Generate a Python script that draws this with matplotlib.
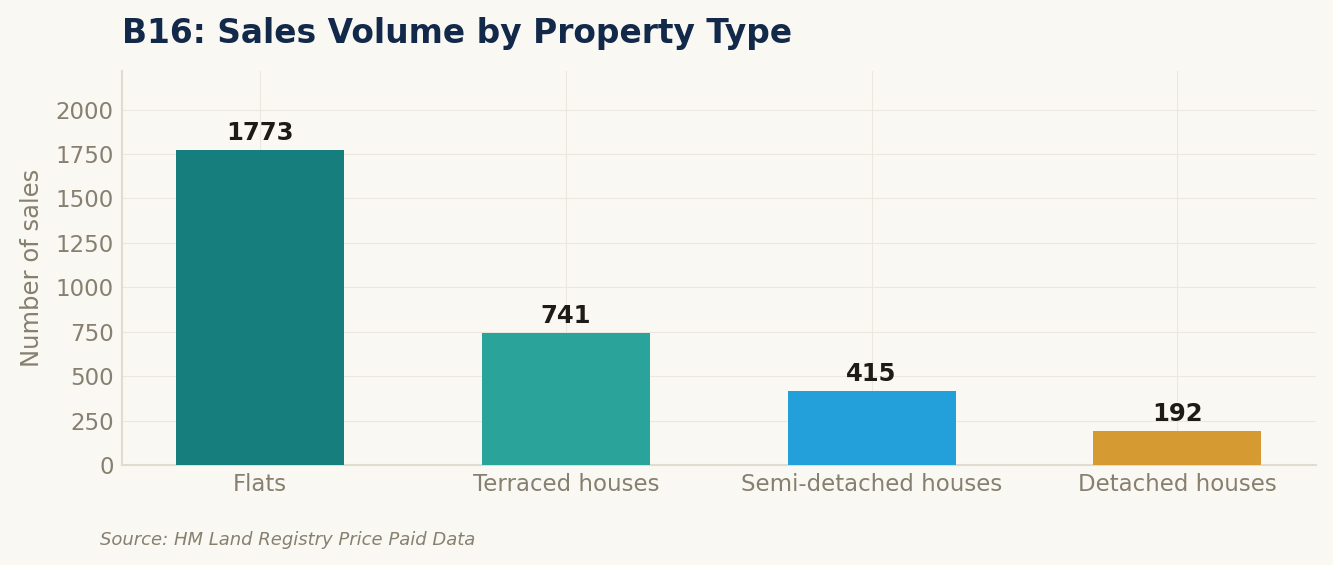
import matplotlib.pyplot as plt
from matplotlib.ticker import MultipleLocator

plt.rcParams['font.family'] = ['DejaVu Sans']

categories = ['Flats', 'Terraced houses', 'Semi-detached houses', 'Detached houses']
sales = [1773, 741, 415, 192]
colors = ['#167f7e', '#2aa39a', '#239fda', '#d69a32']

bg = '#faf8f3'
grey = '#878070'

fig, ax = plt.subplots(figsize=(13.33, 5.65), dpi=100)
fig.patch.set_facecolor(bg)
ax.set_facecolor(bg)

bars = ax.bar(categories, sales, width=0.55, color=colors, zorder=3)
for bar, v in zip(bars, sales):
    ax.text(bar.get_x() + bar.get_width() / 2, v + 30, str(v),
            ha='center', va='bottom', fontsize=17.5, fontweight='bold', color='#1e1b16')

ax.set_ylim(0, max(sales) * 1.25)
ax.yaxis.set_major_locator(MultipleLocator(250))
ax.grid(True, color='#ece8df', linewidth=0.8, zorder=0)
for s in ['top', 'right']:
    ax.spines[s].set_visible(False)
for s in ['left', 'bottom']:
    ax.spines[s].set_color('#e0dccf')
    ax.spines[s].set_linewidth(1.5)
ax.tick_params(axis='both', colors=grey, labelsize=16.5, length=0, pad=6)
ax.set_ylabel('Number of sales', fontsize=17.5, color=grey, labelpad=8)
ax.set_title('B16: Sales Volume by Property Type', loc='left', fontsize=23.7,
             fontweight='bold', color='#12294a', pad=20)

fig.text(0.075, 0.035, 'Source: HM Land Registry Price Paid Data', fontsize=13,
         style='italic', color=grey)

plt.subplots_adjust(left=0.0915, right=0.987, top=0.874, bottom=0.177)
plt.savefig('out.png', facecolor=bg)
